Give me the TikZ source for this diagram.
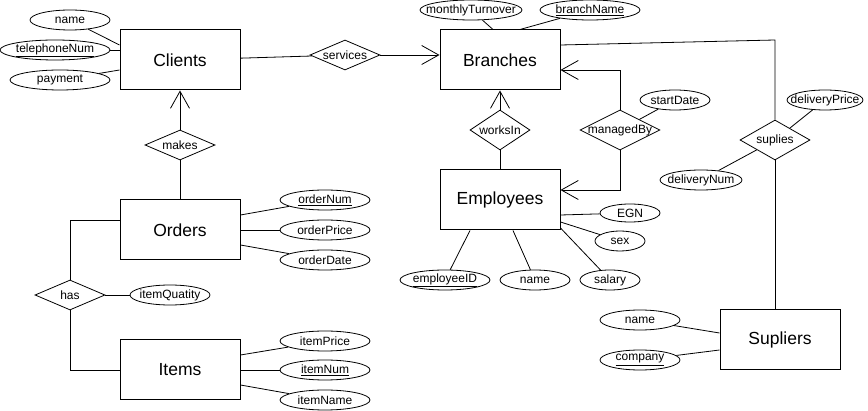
\documentclass[tikz,border=0pt]{standalone}
\usepackage{fontspec}
\setmainfont{Liberation Sans}
\usepackage{tikz}
\usetikzlibrary{shapes.geometric, arrows.meta}
\newcommand{\zw}[1]{\makebox[0pt]{#1}}

\begin{document}
\begin{tikzpicture}[
  x=1pt, y=-1pt,
  entity/.style={rectangle, draw=black, line width=1pt, minimum width=120, minimum height=60, font=\fontsize{17.5}{20}\selectfont},
  attr/.style={ellipse, draw=black, line width=0.8pt, inner sep=0pt, minimum height=20, font=\fontsize{12}{14}\selectfont},
  rel/.style={diamond, draw=black, line width=0.8pt, inner sep=0pt, font=\fontsize{12}{14}\selectfont},
  link/.style={line width=0.8pt},
  crow/.style={link, -{Straight Barb[length=17pt, width=19pt]}}
]
\useasboundingbox (0,0) rectangle (868,411);

\node[entity] (clients) at (180,60) {Clients};
\node[entity] (orders) at (180,230) {Orders};
\node[entity] (items) at (180,370) {Items};
\node[entity] (branches) at (500,60) {Branches};
\node[entity] (employees) at (500,200) {Employees};
\node[entity] (supliers) at (780,340) {Supliers};

\node[rel, minimum width=70, minimum height=30] (services) at (345,55) {\zw{services}};
\node[rel, minimum width=70, minimum height=30] (makes) at (180,145) {\zw{makes}};
\node[rel, minimum width=70, minimum height=30] (has) at (70,295) {\zw{has}};
\node[rel, minimum width=60, minimum height=40] (worksin) at (500,130) {\zw{worksIn}};
\node[rel, minimum width=80, minimum height=40] (managedby) at (620,130) {\zw{managedBy}};
\node[rel, minimum width=70, minimum height=40] (suplies) at (775,140) {\zw{suplies}};

\node[attr, minimum width=80] (cname) at (70,20) {\zw{name}};
\node[attr, minimum width=110] (ctel) at (55,50) {\zw{\underline{telephoneNum}}};
\node[attr, minimum width=100] (cpay) at (60,80) {\zw{payment}};
\node[attr, minimum width=90] (ornum) at (325,200) {\zw{\underline{orderNum}}};
\node[attr, minimum width=90] (orprice) at (325,230) {\zw{orderPrice}};
\node[attr, minimum width=90] (ordate) at (325,260) {\zw{orderDate}};
\node[attr, minimum width=80] (itemq) at (170,295) {\zw{itemQuatity}};
\node[attr, minimum width=90] (iprice) at (325,341) {\zw{itemPrice}};
\node[attr, minimum width=90] (inum) at (325,370) {\zw{\underline{itemNum}}};
\node[attr, minimum width=90] (iname) at (325,400) {\zw{itemName}};
\node[attr, minimum width=102] (bturn) at (471,10) {\zw{monthlyTurnover}};
\node[attr, minimum width=100] (bname) at (590,10) {\zw{\underline{branchName}}};
\node[attr, minimum width=70] (sdate) at (675,100) {\zw{startDate}};
\node[attr, minimum width=76] (dprice) at (825,100) {\zw{deliveryPrice}};
\node[attr, minimum width=82] (dnum) at (701,180) {\zw{deliveryNum}};
\node[attr, minimum width=60, minimum height=18] (egn) at (630,213) {\zw{EGN}};
\node[attr, minimum width=50] (esex) at (620,241) {\zw{sex}};
\node[attr, minimum width=60] (esal) at (610,280) {\zw{salary}};
\node[attr, minimum width=70] (ename) at (535,280) {\zw{name}};
\node[attr, minimum width=90] (eid) at (445,280) {\zw{\underline{employeeID}}};
\node[attr, minimum width=80] (sname) at (640,320) {\zw{name}};
\node[attr, minimum width=80] (scomp) at (640,360) {\zw{\underline{company}}};
\coordinate (sbend) at (775,40);

\draw[link] (cname) -- ([yshift=15pt]clients.west);
\draw[link] (ctel) -- ([yshift=10pt]clients.west);
\draw[link] (cpay) -- ([yshift=-10pt]clients.west);
\draw[link] (clients) -- (services);
\draw[crow] (services.east) -- (branches.west |- services.east);
\draw[crow] (makes) -- (clients);
\draw[link] (makes) -- (orders);

\draw[link] (ornum) -- ([yshift=15pt]orders.east);
\draw[link] (orprice) -- (orders.east);
\draw[link] (ordate) -- ([yshift=-15pt]orders.east);
\draw[link] (has.north) |- ([yshift=10pt]orders.west);
\draw[link] (has.south) |- (items.west);
\draw[link] (has) -- (itemq);
\draw[link] (iprice) -- ([yshift=15pt]items.east);
\draw[link] (inum) -- (items.east);
\draw[link] (iname) -- ([yshift=-15pt]items.east);

\draw[link] (bturn) -- ([xshift=-7pt]branches.north);
\draw[link] (bname) -- ([xshift=20pt]branches.north);
\draw[link] ([yshift=15pt]branches.east) -- (sbend) -- (suplies.north);
\draw[crow] (worksin) -- (branches);
\draw[link] (worksin) -- (employees);
\draw[crow] (managedby.north) |- ([yshift=-10pt]branches.east);
\draw[crow] (managedby.south) |- ([yshift=10pt]employees.east);
\draw[link] (managedby) -- (sdate);

\draw[link] (suplies.south) -- (suplies.south |- supliers.north);
\draw[link] (suplies) -- (dprice);
\draw[link] (suplies) -- (dnum);

\draw[link] (egn) -- ([yshift=-15pt]employees.east);
\draw[link] (esex) -- ([yshift=-22pt]employees.east);
\draw[link] (esal) -- ([yshift=-28pt]employees.east);
\draw[link] (ename) -- ([xshift=13pt]employees.south);
\draw[link] (eid) -- ([xshift=-30pt]employees.south);
\draw[link] (sname) -- ([yshift=7pt]supliers.west);
\draw[link] (scomp) -- ([yshift=-10pt]supliers.west);

\end{tikzpicture}
\end{document}
